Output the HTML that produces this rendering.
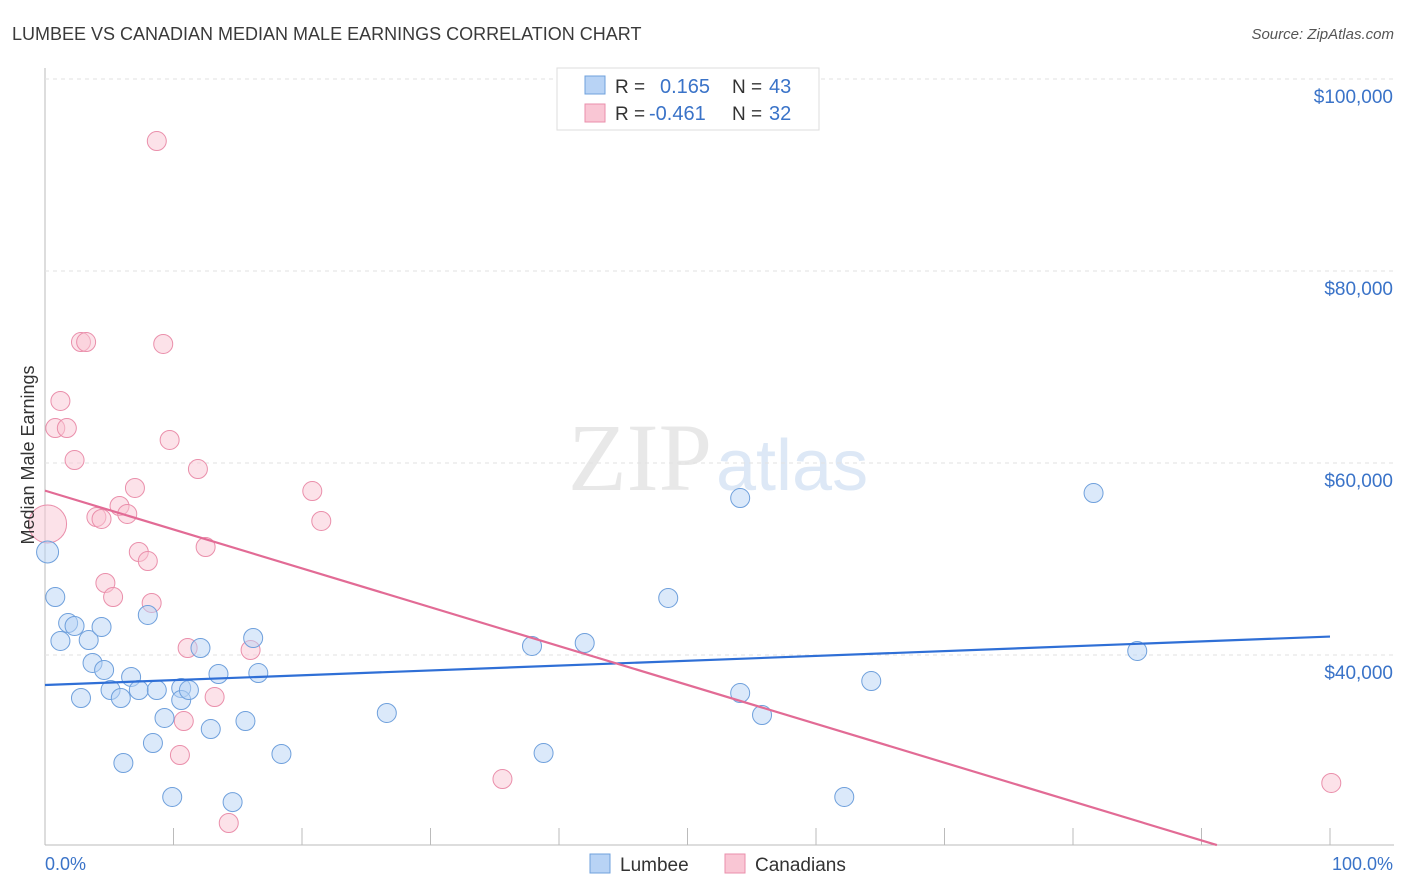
<!DOCTYPE html>
<html><head><meta charset="utf-8"><style>
body{margin:0;background:#fff;font-family:"Liberation Sans",sans-serif}
svg{display:block}
</style></head><body>
<svg id="c" width="1406" height="892">
<text x="12" y="40" font-size="18" fill="#3a3a3a">LUMBEE VS CANADIAN MEDIAN MALE EARNINGS CORRELATION CHART</text>
<text x="1394" y="39" font-size="15" fill="#555" font-style="italic" text-anchor="end">Source: ZipAtlas.com</text>
<text x="712" y="490" font-size="96" fill="#e8e8e8" font-family="Liberation Serif,serif" text-anchor="end">ZIP</text>
<text x="716" y="490" font-size="72" fill="#dde8f6">atlas</text>
<g id="grid"></g><g id="marks"></g>
<text transform="translate(34,455) rotate(-90)" font-size="18" fill="#333" text-anchor="middle">Median Male Earnings</text>
<text x="45" y="870" font-size="18" fill="#3a73c8">0.0%</text>
<text x="1393" y="870" font-size="18" fill="#3a73c8" text-anchor="end">100.0%</text>
<g>
<rect x="557" y="68" width="262" height="62" fill="#fff" stroke="#ddd"/>
<rect x="585" y="76" width="20" height="18" fill="#b8d3f5" stroke="#6fa0dc"/>
<rect x="585" y="104" width="20" height="18" fill="#f9c6d4" stroke="#ea8fab"/>
<text x="615" y="93" font-size="19" fill="#333">R =</text><text x="660" y="93" font-size="20" fill="#3a73c8">0.165</text>
<text x="732" y="93" font-size="19" fill="#333">N =</text><text x="769" y="93" font-size="20" fill="#3a73c8">43</text>
<text x="615" y="120" font-size="19" fill="#333">R =</text><text x="649" y="120" font-size="20" fill="#3a73c8">-0.461</text>
<text x="732" y="120" font-size="19" fill="#333">N =</text><text x="769" y="120" font-size="20" fill="#3a73c8">32</text>
</g>
<g>
<rect x="590" y="854" width="20" height="19" fill="#b8d3f5" stroke="#6fa0dc"/>
<text x="620" y="871" font-size="19" fill="#333">Lumbee</text>
<rect x="725" y="854" width="20" height="19" fill="#f9c6d4" stroke="#ea8fab"/>
<text x="755" y="871" font-size="19" fill="#333">Canadians</text>
</g>
</svg>
<script>
const yTicks=[100000,80000,60000,40000];
const yTickLabels=["$100,000","$80,000","$60,000","$40,000"];
const lumbeeX=[0.2,0.8,1.2,1.8,2.3,3.4,3.7,2.8,4.4,4.6,5.1,5.9,6.1,6.7,7.3,8.0,8.4,8.7,9.3,9.9,10.6,10.6,11.2,12.1,12.9,13.5,14.6,15.6,16.2,16.6,18.4,26.6,37.9,38.8,42.0,48.5,54.1,54.1,55.8,62.2,64.3,81.6,85.0];
const lumbeeY=[50730,46040,41460,43330,43020,41560,39170,35520,42920,38440,36350,35520,28750,37710,36350,44170,30830,36350,33440,25210,36560,35310,36350,40730,32290,38020,24680,33120,41770,38120,29690,33960,40940,29790,41250,45940,56350,36040,33750,25210,37290,56870,40420];
const canX=[0.2,0.8,1.2,1.7,2.3,2.8,3.2,4.0,4.4,4.7,5.3,5.8,6.4,7.0,7.3,8.0,8.3,8.7,9.2,9.7,10.8,10.5,11.1,11.9,12.5,13.2,14.3,16.0,20.8,21.5,35.6,100.1];
const canY=[53650,63640,66460,63640,60310,72600,72600,54370,54170,47500,46040,55520,54690,57400,50730,49790,45420,93540,72400,62400,33120,29580,40730,59370,51250,35620,22500,40520,57080,53960,27080,26670];
const NS="http://www.w3.org/2000/svg";
const X0=45,X1=1330,Y100=79,PXPER=192/20000;
const sx=p=>X0+(X1-X0)*p/100;
const sy=v=>Y100+(100000-v)*PXPER;
const grid=document.getElementById('grid'),marks=document.getElementById('marks');
function mk(tag,a,parent){const e=document.createElementNS(NS,tag);for(const k in a)e.setAttribute(k,a[k]);parent.appendChild(e);return e;}
let l=mk('line',{x1:45,y1:68,x2:45,y2:845,stroke:'#bbb'},grid);


l=mk('line',{x1:45,y1:845,x2:1394,y2:845,stroke:'#bbb'},grid);


for(let i=1;i<=10;i++){const t=mk('line',{x1:sx(i*10),y1:828,x2:sx(i*10),y2:845,stroke:'#bbb'},grid);

}
yTicks.forEach((v,i)=>{const g=mk('line',{x1:45,y1:sy(v),x2:1394,y2:sy(v),stroke:'#e2e2e2','stroke-dasharray':'4,4'},grid);


const t=mk('text',{x:1393,y:sy(v)+24,'font-size':19,fill:'#3a73c8','text-anchor':'end'},grid);t.textContent=yTickLabels[i];

});
function dots(xs,ys,fill,stroke,name){xs.forEach((x,i)=>{const r=(i===0)?(name==='canadians-point'?19:11):9.5;
const c=mk('circle',{cx:sx(x),cy:sy(ys[i]),r:r,fill:fill,'fill-opacity':0.5,stroke:stroke,'stroke-width':1},marks);

});}
function reg(xs,ys,color,name,xmax){const n=xs.length;let mx=0,my=0;xs.forEach((x,i)=>{mx+=x;my+=ys[i];});mx/=n;my/=n;
let sxy=0,sxx=0;xs.forEach((x,i)=>{sxy+=(x-mx)*(ys[i]-my);sxx+=(x-mx)*(x-mx);});const b=sxy/sxx,a=my-b*mx;
let xe=xmax;const yb=20200;if(a+b*xe<yb&&b<0)xe=(yb-a)/b;
const ln=mk('line',{x1:sx(0),y1:sy(a),x2:sx(xe),y2:sy(a+b*xe),stroke:color,'stroke-width':2.2},marks);

}
dots(canX,canY,'#f9c6d4','#ea8fab','canadians-point');
dots(lumbeeX,lumbeeY,'#b8d3f5','#6fa0dc','lumbee-point');
reg(lumbeeX,lumbeeY,'#2f6fd6','lumbee-trendline',100);
reg(canX,canY,'#e26b95','canadians-trendline',100);
</script>
</body></html>
